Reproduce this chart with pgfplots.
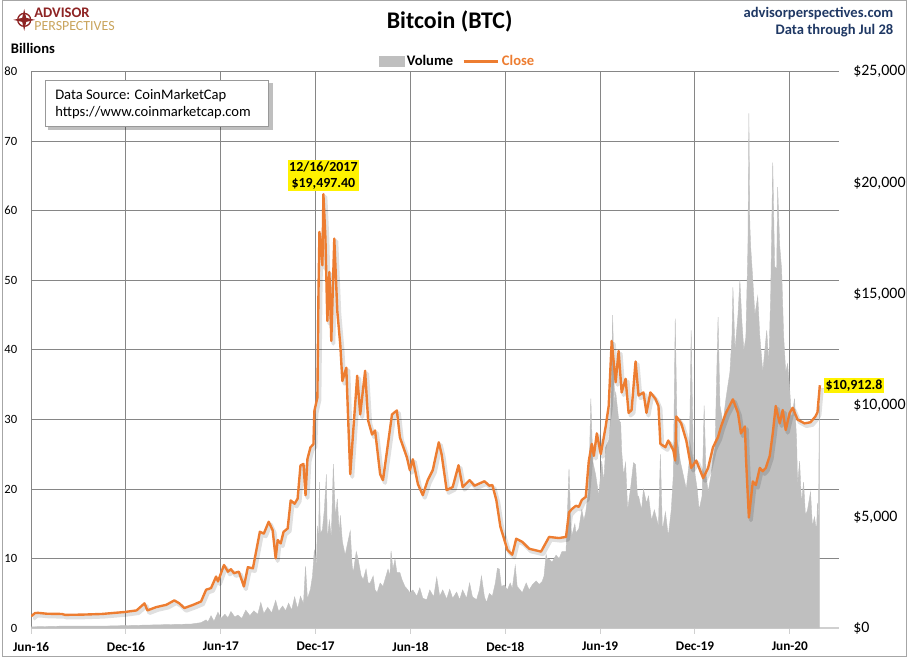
\documentclass[border=0pt]{standalone}
\usepackage{fontspec}
\setmainfont{Carlito}
\usepackage{pgfplots}
\pgfplotsset{compat=1.18}
\usepackage{pgfplotstable}
\definecolor{btcorange}{HTML}{ED7D31}
\definecolor{volgray}{HTML}{BFBFBF}
\definecolor{gridgray}{HTML}{868686}
\definecolor{axgray}{HTML}{D0D0D0}
\definecolor{navy}{HTML}{1F3864}
\definecolor{apred}{HTML}{8E2424}
\definecolor{apgold}{HTML}{C9A45C}

\pgfplotstableread{
m vol
0.00 0.2
1.95 0.3
4.47 0.3
6.35 0.4
8.24 0.5
10.13 0.6
10.75 0.8
11.07 1.2
11.19 0.9
11.38 1.8
11.57 1.0
11.82 2.3
12.01 1.4
12.26 2.0
12.45 1.5
12.64 2.4
12.89 1.6
13.08 1.9
13.33 1.4
13.58 2.6
13.84 1.8
14.09 2.5
14.34 2.0
14.53 3.7
14.72 2.1
14.97 3.0
15.22 2.2
15.47 4.0
15.66 2.4
15.91 3.2
16.10 2.5
16.29 3.6
16.48 2.6
16.67 4.5
16.86 2.8
17.04 4.6
17.23 3.5
17.36 8.9
17.48 4.2
17.67 5.6
17.80 7.5
17.92 11.3
18.05 9.0
18.11 14.7
18.18 12.0
18.24 21.0
18.30 13.5
18.43 14.2
18.55 17.0
18.68 22.1
18.74 12.8
18.87 15.5
18.99 13.0
19.12 23.6
19.25 16.0
19.37 18.6
19.50 13.5
19.56 16.2
19.69 12.5
19.75 11.8
19.87 10.5
20.00 12.0
20.19 14.0
20.31 9.0
20.38 8.0
20.57 11.0
20.69 9.9
20.88 7.5
21.01 7.0
21.19 8.5
21.32 6.5
21.45 6.5
21.64 7.5
21.76 5.5
21.89 5.1
22.08 6.5
22.26 6.0
22.45 7.5
22.58 8.5
22.70 7.5
22.77 11.1
22.89 8.5
23.02 9.9
23.14 8.0
23.33 8.0
23.46 7.0
23.65 6.0
23.84 5.5
23.96 5.1
24.15 5.5
24.40 4.6
24.59 5.8
24.78 4.3
25.03 4.1
25.22 5.5
25.47 4.5
25.66 7.3
25.85 4.6
26.04 5.5
26.29 4.2
26.48 5.6
26.67 4.3
26.92 5.2
27.11 4.1
27.30 5.5
27.55 4.3
27.74 6.5
27.92 4.5
28.18 4.1
28.36 5.5
28.49 7.5
28.68 4.5
28.81 3.7
28.99 5.0
29.18 4.6
29.37 6.5
29.50 8.6
29.62 8.5
29.75 6.0
29.94 6.2
30.13 5.5
30.31 6.5
30.44 5.7
30.63 9.0
30.75 6.0
30.94 5.5
31.07 5.1
31.32 6.5
31.51 5.5
31.70 6.2
31.95 6.8
32.14 6.3
32.33 6.7
32.45 7.5
32.58 10.6
32.64 10.0
32.77 9.9
32.96 9.5
33.21 10.5
33.40 10.0
33.58 11.0
33.84 11.0
34.03 22.9
34.15 14.5
34.21 13.3
34.40 15.0
34.47 13.7
34.65 14.3
34.84 17.0
34.97 15.5
35.09 16.7
35.28 20.0
35.41 33.0
35.53 24.0
35.72 22.0
35.91 19.0
36.10 24.0
36.23 21.0
36.35 26.0
36.54 27.0
36.67 30.0
36.79 45.0
36.92 32.0
36.98 34.0
37.17 30.0
37.30 29.5
37.36 25.5
37.48 22.0
37.61 23.8
37.74 17.0
37.92 20.0
38.11 23.8
38.24 23.5
38.36 19.0
38.43 19.0
38.62 17.0
38.74 20.0
38.93 18.0
39.06 19.0
39.25 15.5
39.43 17.0
39.69 14.7
39.81 25.0
39.94 14.0
40.13 16.7
40.31 13.2
40.50 17.0
40.63 22.0
40.75 44.5
40.88 27.0
41.07 24.0
41.26 22.0
41.45 20.0
41.64 24.0
41.76 42.8
41.89 25.0
42.01 22.0
42.14 20.0
42.26 17.0
42.45 19.0
42.58 32.0
42.70 22.0
42.83 19.6
43.02 22.0
43.14 24.5
43.27 26.0
43.46 44.7
43.58 32.0
43.77 29.5
43.96 33.0
44.09 35.0
44.21 36.8
44.34 42.0
44.40 49.0
44.53 40.0
44.72 45.0
44.84 50.0
44.97 44.0
45.09 40.0
45.22 41.8
45.35 55.0
45.41 74.0
45.47 58.0
45.53 54.6
45.66 50.0
45.79 45.0
45.97 47.7
46.10 42.0
46.29 36.8
46.42 40.0
46.54 42.8
46.67 38.0
46.79 48.0
46.92 66.9
47.04 52.0
47.17 51.6
47.23 63.4
47.36 55.0
47.48 51.6
47.61 42.0
47.74 36.8
47.86 38.0
47.99 34.4
48.11 30.0
48.30 33.0
48.43 27.0
48.49 20.6
48.62 24.0
48.74 18.0
48.87 21.0
48.99 16.2
49.12 17.0
49.31 19.6
49.43 14.7
49.56 16.0
49.69 14.0
49.75 18.0
49.81 15.0
49.87 32.0
}\voltable

\pgfplotstableread{
m close
0.00 536
0.25 680
0.44 690
1.01 650
1.95 640
2.14 600
3.21 610
4.47 640
5.91 728
6.67 800
7.17 1115
7.36 800
7.92 950
8.55 1050
9.06 1250
9.37 1120
9.69 906
10.25 1050
10.75 1200
11.07 1730
11.38 1800
11.70 2320
11.82 2100
12.20 2840
12.45 2540
12.64 2650
12.83 2470
13.14 2540
13.46 1875
13.71 2740
14.03 2690
14.21 3360
14.47 4330
14.72 4250
15.03 4780
15.28 4400
15.47 3140
15.60 3960
15.79 3810
15.97 4330
16.23 4480
16.42 5740
16.67 5590
16.86 5820
17.04 7310
17.23 7380
17.36 5970
17.48 7600
17.67 8120
17.86 8270
17.92 9760
18.11 10360
18.18 15130
18.24 17800
18.43 16300
18.49 19497.4
18.62 17500
18.74 13800
18.87 16000
18.99 12900
19.18 17500
19.37 14240
19.56 12720
19.69 11100
19.94 11700
20.06 9330
20.19 6920
20.38 8880
20.63 11340
20.82 9600
21.13 11560
21.32 9330
21.57 8700
21.76 8880
22.08 6920
22.26 6650
22.52 7990
22.83 9600
23.14 9780
23.33 8570
23.77 7680
23.96 7100
24.15 7590
24.47 6470
24.78 5980
25.09 6650
25.41 7100
25.79 8350
25.97 7810
26.29 6200
26.67 6340
27.04 7320
27.30 6340
27.74 6650
28.05 6400
28.36 6500
28.68 6600
28.99 6400
29.18 6430
29.43 5760
29.69 4550
29.94 3970
30.13 3520
30.44 3300
30.69 4020
31.07 3880
31.51 3570
32.26 3440
32.77 4100
33.40 4050
33.84 4100
34.03 5200
34.21 5350
34.47 5500
34.65 5450
34.84 5760
35.09 5900
35.28 7500
35.47 8280
35.60 7740
35.79 8750
36.04 7820
36.35 9060
36.54 9980
36.73 12900
36.98 11050
37.17 12450
37.36 10590
37.61 11200
37.80 9670
37.99 9800
38.24 11980
38.43 10450
38.74 10590
38.93 9670
39.18 10590
39.50 10300
39.69 9980
39.81 8280
40.13 8130
40.31 8430
40.63 8000
40.75 7530
40.82 9510
41.13 9200
41.45 8430
41.76 7200
42.08 7530
42.52 6740
42.83 7200
43.14 8130
43.46 8590
43.65 9060
43.96 9670
44.40 10280
44.72 9670
44.91 8750
45.16 9060
45.22 7740
45.41 4970
45.66 6590
45.85 6430
46.10 7200
46.29 7050
46.48 7200
46.73 7740
46.92 8750
47.11 9980
47.36 9200
47.55 9800
47.74 8900
47.99 9670
48.18 9900
48.49 9370
48.93 9200
49.31 9250
49.62 9510
49.75 9700
49.90 10912.8
}\closetable

\pgfplotsset{
  common/.style={
    at={(21.75pt,21.75pt)}, anchor=origin, scale only axis,
    width=609.75pt, height=420pt,
    xmin=0, xmax=51.13,
    axis x line*=bottom,
    tick align=outside, major tick length=4pt,
    /pgf/number format/assume math mode=true,
  }
}

\begin{document}
\begin{tikzpicture}
\begin{scope}[x=0.75pt,y=0.75pt]
\useasboundingbox (0,0) rectangle (910,661);
\draw[gray!70, line width=0.75pt] (0.5,0.5) rectangle (909.5,660.5);
\end{scope}

% volume axis (left)
\begin{axis}[common,
  ymin=0, ymax=80,
  xtick={0,6,...,48},
  xticklabels={Jun-16,Dec-16,Jun-17,Dec-17,Jun-18,Dec-18,Jun-19,Dec-19,Jun-20},
  ytick={0,10,...,80},
  xmajorgrids, ymajorgrids,
  grid style={gridgray, line width=0.75pt},
  axis y line*=left,
  x axis line style={-, axgray, line width=1.2pt},
  y axis line style={draw=none},
  ytick style={draw=none},
  xtick style={axgray, line width=0.75pt},
  yticklabel style={font=\fontsize{9.5}{11}\selectfont, xshift=-3pt},
  xticklabel style={font=\fontsize{10}{12}\selectfont\bfseries, yshift=-3pt},
]
\addplot[draw=volgray, line width=0.3pt, fill=volgray] table[x=m,y=vol]{\voltable} \closedcycle;
\end{axis}

% close axis (right)
\begin{axis}[common,
  clip mode=individual,
  ymin=0, ymax=25000,
  xtick=\empty,
  x axis line style={draw=none},
  axis y line*=right,
  y axis line style={draw=none},
  ytick style={draw=none},
  ytick={0,5000,...,25000},
  scaled y ticks=false,
  /pgf/number format/fixed,
  /pgf/number format/1000 sep={,},
  yticklabel={\$\pgfmathprintnumber{\tick}},
  yticklabel style={font=\fontsize{12}{14}\selectfont, xshift=3pt},
  legend columns=2,
  legend cell align=left,
  legend style={draw=none, fill=none, at={(0.528,1.018)}, anchor=center,
    font=\fontsize{11}{13}\selectfont\bfseries,
    /tikz/every even column/.append style={column sep=5pt}},
]
\addlegendimage{legend image code/.code={\fill[volgray] (0pt,-3.75pt) rectangle (18.75pt,3.75pt);}}
\addlegendentry{Volume}
\addplot[black, opacity=0.12, line width=3pt, line join=round, xshift=1.5pt, yshift=-2pt, forget plot] table[x=m,y=close]{\closetable};
\addplot[btcorange, line width=1.8pt, line join=round,
  legend image code/.code={\draw[btcorange,line width=1.8pt] (0pt,0pt) -- (26pt,0pt);}]
  table[x=m,y=close]{\closetable};
\addlegendentry{\textcolor{btcorange}{Close}}
\node[fill=yellow, inner sep=1.2pt, align=center, anchor=south,
  font=\fontsize{10.5}{12.5}\selectfont\bfseries] at (axis cs:18.49,19497.4) [yshift=2pt] {12/16/2017\\\$19,497.40};
\node[fill=yellow, inner sep=1.2pt, anchor=west,
  font=\fontsize{10.5}{12.5}\selectfont\bfseries] at (axis cs:49.9,10912.8) [xshift=3pt] {\$10,912.8};
\end{axis}

\begin{scope}[x=0.75pt,y=0.75pt]
% title and texts
\node[font=\fontsize{18}{21}\selectfont\bfseries] at (450,639) {Bitcoin (BTC)};
\node[anchor=east, font=\fontsize{11}{13}\selectfont\bfseries, text=navy] at (901,647) {advisorperspectives.com};
\node[anchor=east, font=\fontsize{11}{13}\selectfont\bfseries, text=navy] at (901,630) {Data through Jul 28};
\node[anchor=west, font=\fontsize{11}{13}\selectfont\bfseries] at (4,612) {Billions};

% data source box
\fill[black, opacity=0.25] (46,577) rectangle (272,530);
\draw[gray!80, fill=white, line width=0.75pt] (43,580) rectangle (268,534);
\node[anchor=west, font=\fontsize{11}{13}\selectfont, inner sep=0pt] at (53,565) {Data Source: CoinMarketCap};
\node[anchor=west, font=\fontsize{11}{13}\selectfont, inner sep=0pt] at (53,548) {https://www.coinmarketcap.com};

% logo
\draw[apred, line width=1pt] (22,641) circle (6.5);
\fill[apred] (22,652) -- (24,643) -- (33,641) -- (24,639) -- (22,630) -- (20,639) -- (11,641) -- (20,643) -- cycle;
\node[anchor=west, font=\fontsize{11}{11}\selectfont\bfseries, text=apred, inner sep=0pt] at (32,648.5) {ADVISOR};
\node[anchor=west, font=\fontsize{10.5}{10.5}\selectfont, text=apgold, inner sep=0pt] at (32,635) {PERSPECTIVES};
\end{scope}
\end{tikzpicture}
\end{document}
